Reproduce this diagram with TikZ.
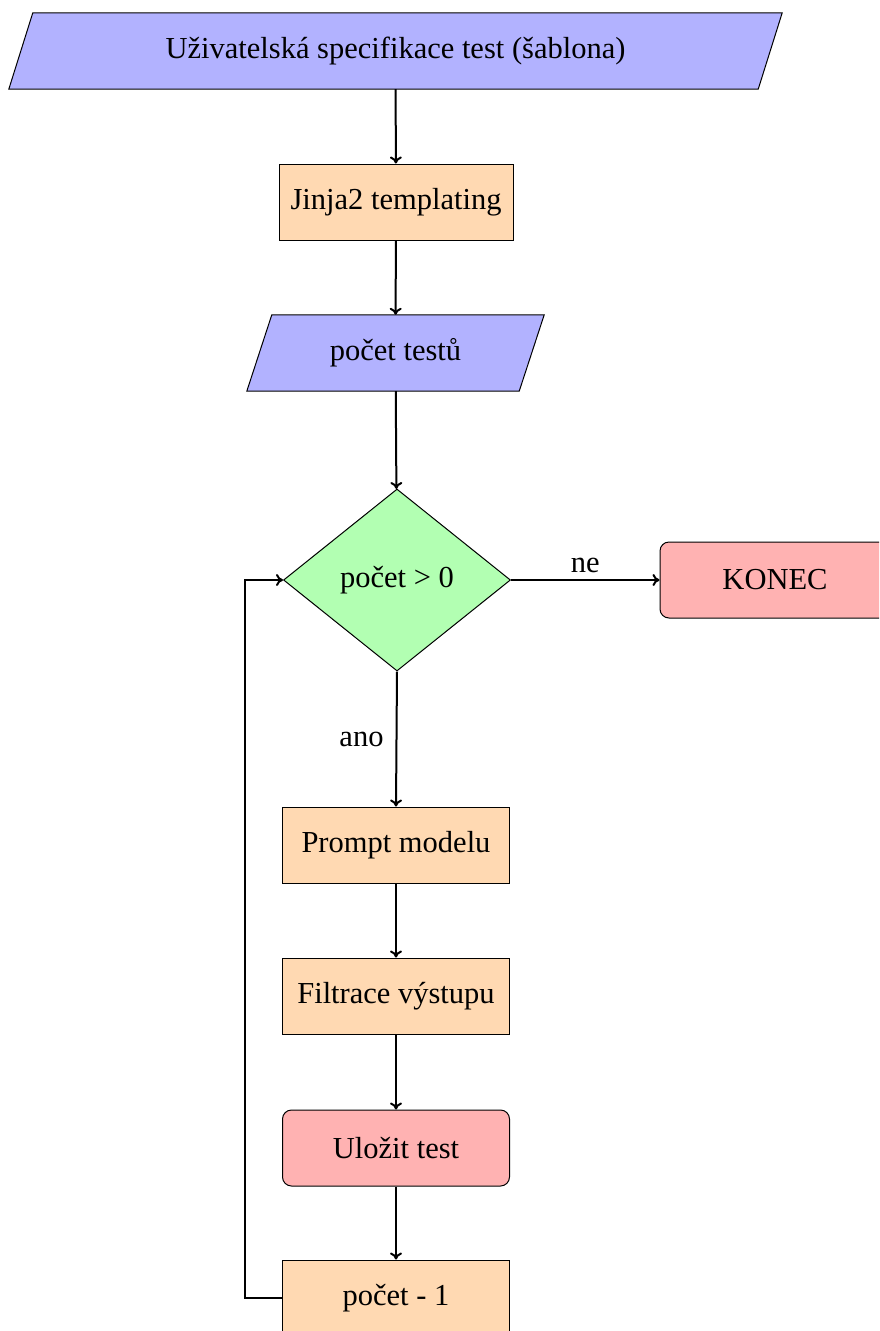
\documentclass[tikz,border=0pt]{standalone}
\usepackage{fontspec}
\setmainfont{Liberation Serif}
\usetikzlibrary{shapes.geometric,arrows.meta,backgrounds}
\begin{document}
\begin{tikzpicture}[x=1pt,y=-1pt,
  font=\fontsize{30.5}{36}\selectfont,
  io/.style={rectangle, minimum height=76pt, inner sep=0pt},
  iofill/.style={draw, fill=blue!30, line width=1pt},
  process/.style={rectangle, draw, fill=orange!30, line width=1pt,
    minimum width=227pt, minimum height=76pt},
  decision/.style={diamond, draw, fill=green!30, line width=1pt,
    minimum width=227pt, minimum height=182pt, inner sep=0pt},
  startstop/.style={rectangle, rounded corners=9pt, draw, fill=red!30, line width=1pt,
    minimum width=227pt, minimum height=76pt},
  arr/.style={-{To[length=7pt,width=12pt]}, line width=2pt}]
\useasboundingbox (0,0) rectangle (879,1331);
\clip (0,0) rectangle (879,1331);
\node[io, minimum width=749pt] (in1) at (395.5,51) {Uživatelská specifikace test (šablona)};
\node[process, minimum width=234pt] (jinja) at (396,202) {Jinja2 templating};
\node[io, minimum width=272pt] (in2) at (395.5,353) {počet testů};
\node[decision] (dec) at (397,580) {počet > 0};
\node[startstop, minimum width=230pt] (konec) at (775,580) {KONEC};
\node[process] (prompt) at (396,845) {Prompt modelu};
\node[process] (filtr) at (396,996) {Filtrace výstupu};
\node[startstop] (ulozit) at (396,1148) {Uložit test};
\node[process] (minus) at (396,1298) {počet - 1};
\begin{scope}[on background layer]
\filldraw[iofill] ([xshift=12pt]in1.north west) -- ([xshift=12pt]in1.north east)
  -- ([xshift=-12pt]in1.south east) -- ([xshift=-12pt]in1.south west) -- cycle;
\filldraw[iofill] ([xshift=12.5pt]in2.north west) -- ([xshift=12.5pt]in2.north east)
  -- ([xshift=-12.5pt]in2.south east) -- ([xshift=-12.5pt]in2.south west) -- cycle;
\end{scope}
\draw[arr] (in1) -- (jinja);
\draw[arr] (jinja) -- (in2);
\draw[arr] (in2) -- (dec);
\draw[arr] (dec.east) -- node[above, inner sep=6pt]{ne} (konec.west);
\draw[arr] (dec.south) -- node[left, inner sep=12pt]{ano} (prompt.north);
\draw[arr] (prompt) -- (filtr);
\draw[arr] (filtr) -- (ulozit);
\draw[arr] (ulozit) -- (minus);
\draw[arr] (minus.west) -- ++(-37,0) |- (dec.west);
\end{tikzpicture}
\end{document}
